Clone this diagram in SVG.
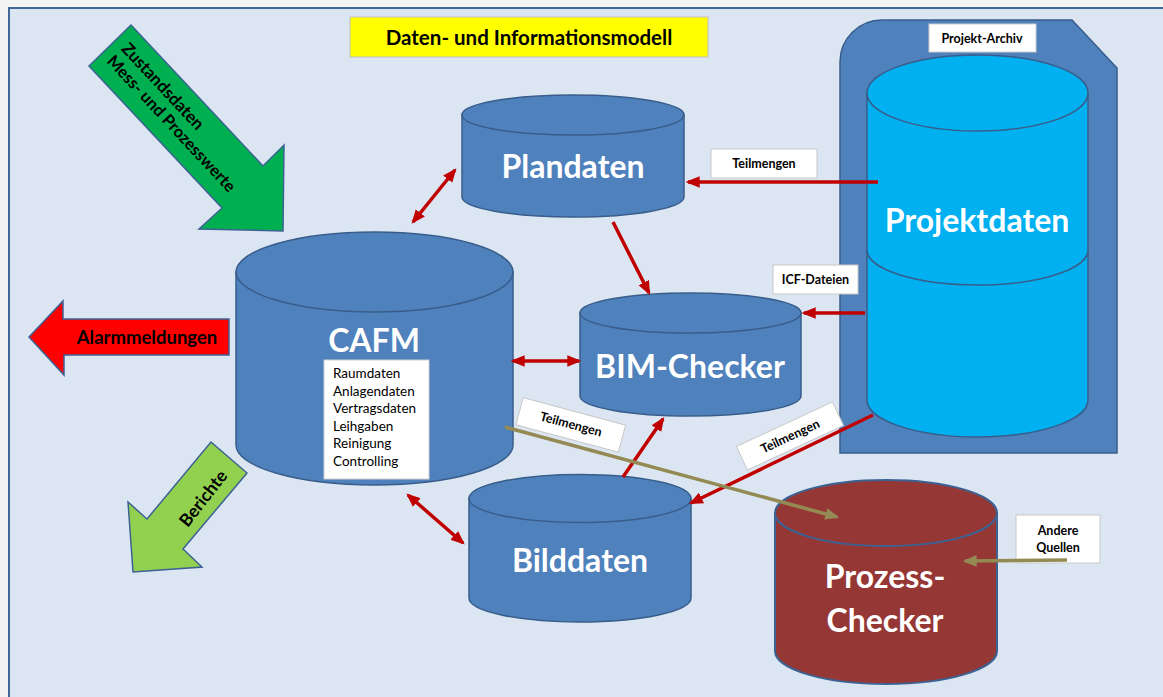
<svg xmlns="http://www.w3.org/2000/svg" width="1163" height="697" viewBox="0 0 1163 697">
<defs>
<style>
.cyl{fill:#4f81bd;stroke:#385d8a;stroke-width:1.5}
.lbl{fill:#ffffff;stroke:#c8c8c8;stroke-width:1}
.big{font-family:Lato,"Open Sans",sans-serif;font-weight:bold;font-size:32px;fill:#ffffff;text-anchor:middle}
.small{font-family:Lato,"Open Sans",sans-serif;font-weight:bold;font-size:12.5px;fill:#000000;text-anchor:middle}
.red{stroke:#c00000;stroke-width:3.5;fill:none}
.olive{stroke:#948a54;stroke-width:3.5;fill:none}
.list{font-family:Lato,"Open Sans",sans-serif;font-size:13.5px;fill:#000000}
</style>
<marker id="ar" viewBox="0 0 12 10" refX="10" refY="5" markerWidth="14" markerHeight="12" markerUnits="userSpaceOnUse" orient="auto-start-reverse"><path d="M0,0 L12,5 L0,10 z" fill="#c00000"/></marker>
<marker id="ao" viewBox="0 0 12 10" refX="10" refY="5" markerWidth="14" markerHeight="12" markerUnits="userSpaceOnUse" orient="auto"><path d="M0,0 L12,5 L0,10 z" fill="#948a54"/></marker>
</defs>
<rect x="0" y="0" width="1163" height="697" fill="#f4f4f4"/>
<rect x="9" y="8" width="1170" height="700" fill="#dce6f2" stroke="#41679a" stroke-width="2"/>

<g id="title">
<rect x="350" y="17" width="358" height="40" fill="#ffff00" stroke="#c0c0c0" stroke-width="1"/>
<text x="529" y="45" font-family="Lato,'Open Sans',sans-serif" font-weight="bold" font-size="20.5" text-anchor="middle" fill="#000">Daten- und Informationsmodell</text>
</g>

<g id="zustand-arrow">
<polygon points="131,25 263,166 284,145 283,231 199,229 222,208 89,66" fill="#00b050" stroke="#3c6294" stroke-width="1.5"/>
<g transform="translate(110,45.5) rotate(47)" font-family="Lato,'Open Sans',sans-serif" font-weight="bold" fill="#000">
<text x="10" y="-5" font-size="17">Zustandsdaten</text>
<text x="9" y="14" font-size="16.5">Mess- und Prozesswerte</text>
</g>
</g>

<g id="alarm-arrow">
<polygon points="29,337 63,301 63,319 229,319 229,355 64,355 64,375" fill="#ff0000" stroke="#3c6294" stroke-width="1.5"/>
<text x="147" y="344" font-family="Lato,'Open Sans',sans-serif" font-weight="bold" font-size="18.5" text-anchor="middle" fill="#000">Alarmmeldungen</text>
</g>

<g id="berichte-arrow">
<polygon points="211,442 247,473 183,549 202,567 133,572 128,502 147,519" fill="#92d050" stroke="#3c6294" stroke-width="1.5"/>
<text transform="translate(208,502) rotate(-52)" font-family="Lato,'Open Sans',sans-serif" font-weight="bold" font-size="17.5" text-anchor="middle" fill="#000">Berichte</text>
</g>

<g id="projekt-archiv">
<path d="M840,62 A42,42 0 0 1 882,20 L1072,20 L1117,68 L1117,453 L840,453 Z" fill="#4f81bd" stroke="#385d8a" stroke-width="1.5"/>
<rect x="929" y="24" width="107" height="28" fill="#ffffff" stroke="#d0d0d0" stroke-width="1"/>
<text x="982" y="43" class="small">Projekt-Archiv</text>
</g>

<g id="projektdaten">
<path d="M867,93 L867,400 A110.5,37 0 0 0 1088,400 L1088,93 Z" fill="#00b0f0" stroke="#385d8a" stroke-width="1.5"/>
<path d="M867,250 A110.5,35 0 0 0 1088,250" fill="none" stroke="#385d8a" stroke-width="1.5"/>
<ellipse cx="977.5" cy="93" rx="110.5" ry="38" fill="#00b0f0" stroke="#385d8a" stroke-width="1.5"/>
<text x="977" y="232" class="big">Projektdaten</text>
</g>

<g id="cafm">
<path class="cyl" d="M236,272 L236,445 A138.5,40 0 0 0 513,445 L513,272 Z"/>
<ellipse class="cyl" cx="374.5" cy="272" rx="138.5" ry="40"/>
<text x="374" y="352" class="big" font-size="31">CAFM</text>
<rect x="324" y="360" width="105" height="119" fill="#ffffff" stroke="#d0d0d0" stroke-width="1"/>
<text class="list" x="333" y="378">Raumdaten</text>
<text class="list" x="333" y="395.5">Anlagendaten</text>
<text class="list" x="333" y="413">Vertragsdaten</text>
<text class="list" x="333" y="430.5">Leihgaben</text>
<text class="list" x="333" y="448">Reinigung</text>
<text class="list" x="333" y="465.5">Controlling</text>
</g>

<g id="plandaten">
<path class="cyl" d="M462,115 L462,197 A111,20 0 0 0 684,197 L684,115 Z"/>
<ellipse class="cyl" cx="573" cy="115" rx="111" ry="20"/>
<text x="573" y="178" class="big">Plandaten</text>
</g>

<g id="bim-checker">
<path class="cyl" d="M580,313 L580,396 A110.5,20 0 0 0 801,396 L801,313 Z"/>
<ellipse class="cyl" cx="690.5" cy="313" rx="110.5" ry="20"/>
<text x="690" y="378" class="big">BIM-Checker</text>
</g>

<g id="bilddaten">
<path class="cyl" d="M469,498.5 L469,598 A111,24 0 0 0 691,598 L691,498.5 Z"/>
<ellipse class="cyl" cx="580" cy="498.5" rx="111" ry="24"/>
<text x="580" y="572" class="big">Bilddaten</text>
</g>

<g id="prozess-checker">
<path d="M775,513 L775,651 A111,33 0 0 0 997,651 L997,513 Z" fill="#953735" stroke="#3c6294" stroke-width="2"/>
<ellipse cx="886" cy="513" rx="111" ry="33" fill="#953735" stroke="#3c6294" stroke-width="2"/>
<text x="885" y="588" class="big">Prozess-</text>
<text x="885" y="632" class="big">Checker</text>
</g>

<g id="label-andere">
<rect x="1016" y="515" width="84" height="48" class="lbl"/>
<text x="1058" y="535" class="small">Andere</text>
<text x="1058" y="552" class="small">Quellen</text>
</g>

<g id="connectors">
<line class="red" x1="878" y1="182" x2="688" y2="182" marker-end="url(#ar)"/>
<line class="red" x1="865" y1="313" x2="804" y2="313" marker-end="url(#ar)"/>
<line class="red" x1="873" y1="415" x2="691" y2="503" marker-end="url(#ar)"/>
<line class="red" x1="613" y1="222" x2="649" y2="293" marker-end="url(#ar)"/>
<line class="red" x1="413" y1="222" x2="455" y2="170" marker-start="url(#ar)" marker-end="url(#ar)"/>
<line class="red" x1="513" y1="361" x2="579" y2="361" marker-start="url(#ar)" marker-end="url(#ar)"/>
<line class="red" x1="408" y1="495" x2="463" y2="543" marker-start="url(#ar)" marker-end="url(#ar)"/>
<line class="red" x1="623" y1="477" x2="663" y2="419" marker-end="url(#ar)"/>
<line class="olive" x1="505" y1="427" x2="837" y2="517" marker-end="url(#ao)"/>
<line class="olive" x1="1067" y1="560" x2="965" y2="561" marker-end="url(#ao)"/>
</g>

<g id="label-teilmengen-1">
<rect x="711" y="149" width="106" height="29" class="lbl"/>
<text x="764" y="168" class="small">Teilmengen</text>
</g>
<g id="label-icf">
<rect x="773" y="265" width="85" height="29" class="lbl"/>
<text x="815.5" y="284" class="small">ICF-Dateien</text>
</g>
<g id="label-teilmengen-2" transform="translate(790,436) rotate(-25)">
<rect x="-53" y="-13" width="106" height="26" class="lbl"/>
<text x="0" y="4.5" class="small" font-size="13">Teilmengen</text>
</g>
<g id="label-teilmengen-3" transform="translate(571,424) rotate(15)">
<rect x="-53" y="-13" width="106" height="28" class="lbl"/>
<text x="0" y="4.5" class="small" font-size="13">Teilmengen</text>
</g>
</svg>
